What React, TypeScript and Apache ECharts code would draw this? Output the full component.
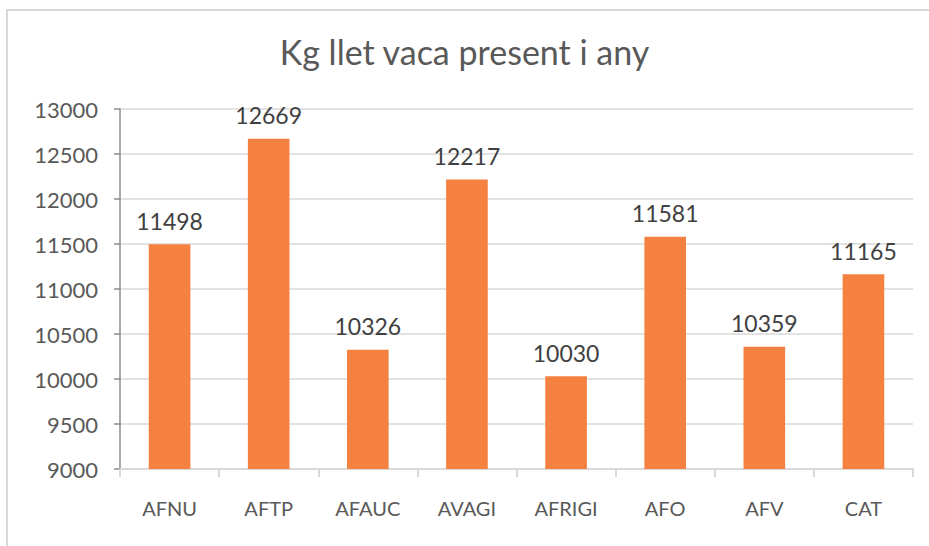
import React, { useEffect, useRef } from "react";
import * as echarts from "echarts";

const categories = ["AFNU", "AFTP", "AFAUC", "AVAGI", "AFRIGI", "AFO", "AFV", "CAT"];
const values = [11498, 12669, 10326, 12217, 10030, 11581, 10359, 11165];
const titleText = "Kg llet vaca present i any";
const yMin = 9000;
const yMax = 13000;
const yStep = 500;

export default function App() {
  const ref = useRef<HTMLDivElement>(null);
  useEffect(() => {
    if (!ref.current) return;
    const chart = echarts.init(ref.current, null, { renderer: "svg" });
    chart.setOption({
      animation: false,
      backgroundColor: "#ffffff",
      textStyle: { fontFamily: "Lato" },
      title: {
        text: titleText,
        left: "center",
        top: 29,
        textStyle: { fontFamily: "Lato", fontSize: 34, fontWeight: "normal", color: "#595959" },
      },
      graphic: [
        {
          type: "rect",
          shape: { x: 7, y: 10, width: 940, height: 560 },
          style: { fill: "none", stroke: "#d9d9d9", lineWidth: 2 },
          silent: true,
        },
      ],
      grid: { left: 120, right: 16, top: 109, bottom: 77, containLabel: false },
      xAxis: {
        type: "category",
        data: categories,
        axisLine: { show: true, lineStyle: { color: "#d9d9d9", width: 2 } },
        axisTick: { show: true, alignWithLabel: false, length: 8, lineStyle: { color: "#d9d9d9", width: 2 } },
        axisLabel: { fontFamily: "Lato", fontSize: 20, color: "#595959", margin: 29 },
      },
      yAxis: {
        type: "value",
        min: yMin,
        max: yMax,
        interval: yStep,
        axisLine: { show: true, lineStyle: { color: "#8c8c8c", width: 1.5 } },
        axisTick: { show: true, length: 6, lineStyle: { color: "#8c8c8c", width: 1.5 } },
        axisLabel: {
          fontFamily: "Lato",
          fontSize: 22,
          color: "#595959",
          margin: 22,
          formatter: (v: number) => String(v),
        },
        splitLine: { show: true, lineStyle: { color: "#d9d9d9", width: 1.5 } },
      },
      series: [
        {
          type: "bar",
          data: values,
          barWidth: "42%",
          itemStyle: { color: "#F58140" },
          label: {
            show: true,
            position: "top",
            distance: 12,
            fontFamily: "Lato",
            fontSize: 23,
            color: "#404040",
          },
        },
      ],
    });
    return () => chart.dispose();
  }, []);
  return (
    <div
      ref={ref}
      style={{ position: "fixed", left: 0, top: 0, width: 929, height: 546 }}
    />
  );
}
